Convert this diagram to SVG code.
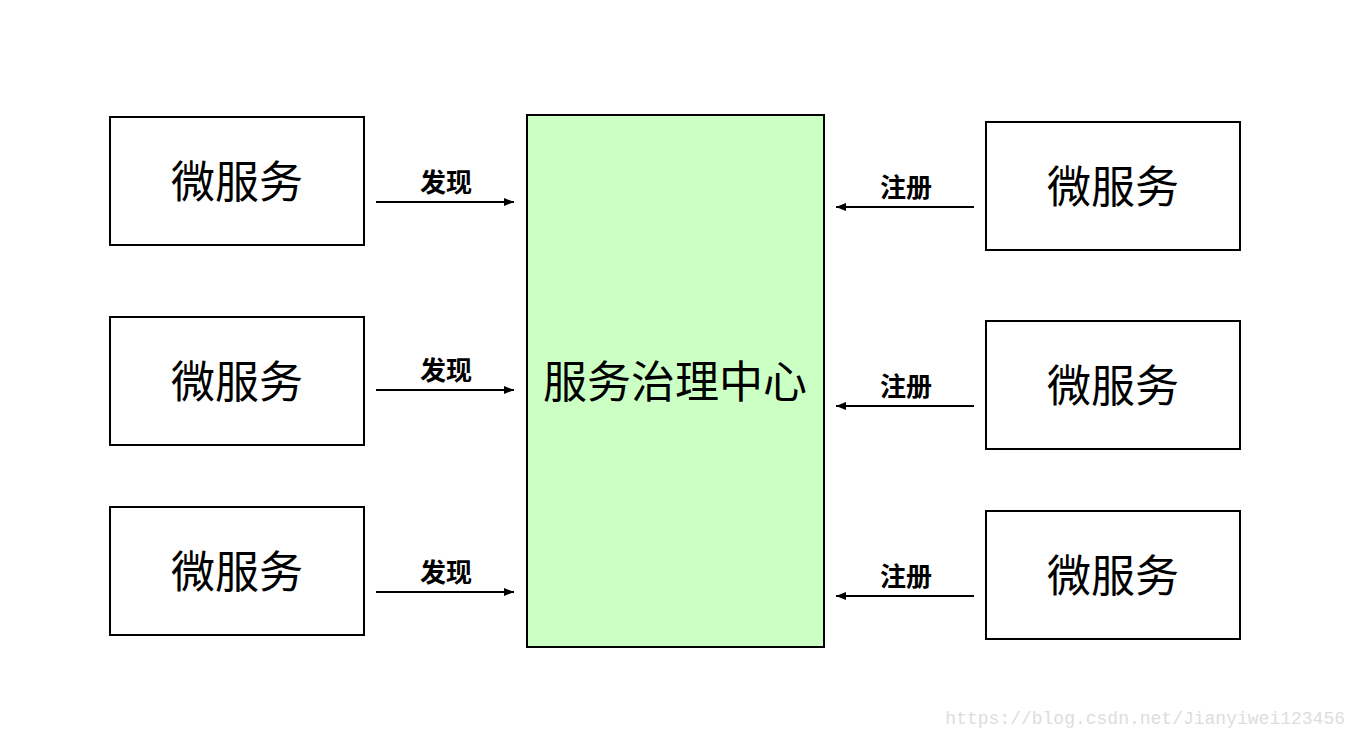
<svg xmlns="http://www.w3.org/2000/svg" width="1356" height="738" viewBox="0 0 1356 738">
<style>
.box{fill:#fff;stroke:#000;stroke-width:2}
.t{font-family:"Noto Sans CJK SC","Noto Sans",sans-serif;font-size:44px;text-anchor:middle;fill:#000}
.l{font-family:"Noto Sans CJK SC","Noto Sans",sans-serif;font-size:26px;font-weight:bold;text-anchor:middle;fill:#000}
.c{stroke:#000;stroke-width:2;fill:none;marker-end:url(#a)}
</style>
<defs><marker id="a" viewBox="0 0 10 10" refX="10" refY="5" markerWidth="5" markerHeight="5" orient="auto" markerUnits="strokeWidth"><path d="M0,1L10,5L0,9z" fill="#000"/></marker></defs>
<rect width="1356" height="738" fill="#fff"/>
<g id="center"><rect x="527" y="115" width="297" height="532" fill="#ccffc4" stroke="#000" stroke-width="2"/><text class="t" x="675" y="398">服务治理中心</text></g>
<g id="l1"><rect class="box" x="110" y="117" width="254" height="128"/><text class="t" x="237" y="198">微服务</text></g>
<g id="l2"><rect class="box" x="110" y="317" width="254" height="128"/><text class="t" x="237" y="398">微服务</text></g>
<g id="l3"><rect class="box" x="110" y="507" width="254" height="128"/><text class="t" x="237" y="588">微服务</text></g>
<g id="r1"><rect class="box" x="986" y="122" width="254" height="128"/><text class="t" x="1113" y="203">微服务</text></g>
<g id="r2"><rect class="box" x="986" y="321" width="254" height="128"/><text class="t" x="1113" y="402">微服务</text></g>
<g id="r3"><rect class="box" x="986" y="511" width="254" height="128"/><text class="t" x="1113" y="592">微服务</text></g>
<g id="connectors">
<line class="c" x1="376" y1="202" x2="514" y2="202"/><text class="l" x="446" y="192">发现</text>
<line class="c" x1="376" y1="390" x2="514" y2="390"/><text class="l" x="446" y="380">发现</text>
<line class="c" x1="376" y1="592" x2="514" y2="592"/><text class="l" x="446" y="582">发现</text>
<line class="c" x1="974" y1="207" x2="836" y2="207"/><text class="l" x="906" y="197">注册</text>
<line class="c" x1="974" y1="406" x2="836" y2="406"/><text class="l" x="906" y="396">注册</text>
<line class="c" x1="974" y1="596" x2="836" y2="596"/><text class="l" x="906" y="586">注册</text>
</g>
<text x="1345" y="724" font-family="Liberation Mono,monospace" font-size="18" fill="#ddd" text-anchor="end">https://blog.csdn.net/Jianyiwei123456</text>
</svg>
